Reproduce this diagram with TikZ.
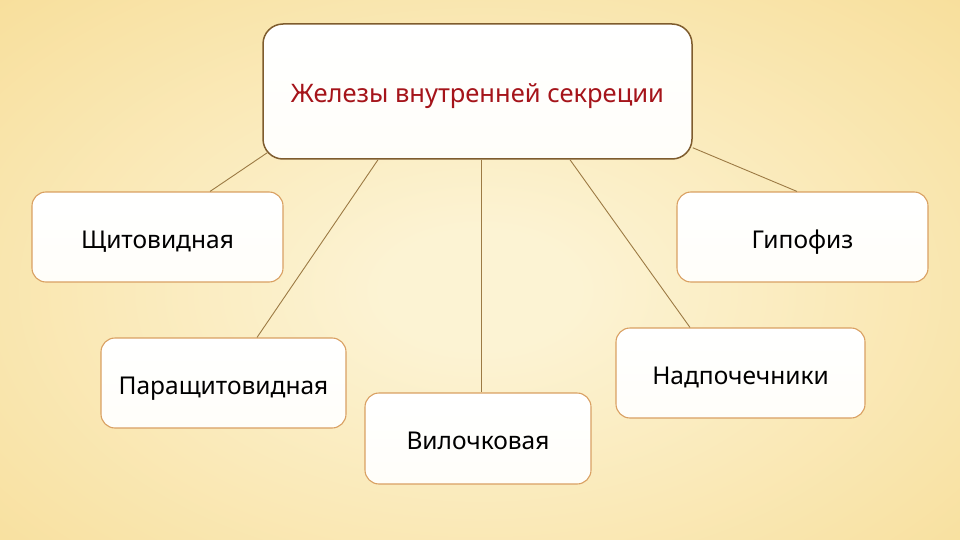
\documentclass[tikz,border=0pt]{standalone}
\usepackage{fontspec}
\setmainfont{Noto Sans}
\usetikzlibrary{calc}
\definecolor{bgin}{HTML}{FCF3D3}
\definecolor{bgmid}{HTML}{F6D683}
\definecolor{bgout}{HTML}{EFC155}
\definecolor{topborder}{HTML}{7E5C2E}
\definecolor{boxborder}{HTML}{D9A062}
\definecolor{linkc}{HTML}{9C7A44}
\definecolor{titlec}{HTML}{A5141A}
\definecolor{boxbot}{HTML}{FFFEF9}
\pgfdeclareradialshading{bgshade}{\pgfpoint{0bp}{0bp}}{color(0bp)=(bgin); color(5bp)=(bgin); color(48bp)=(bgmid); color(72bp)=(bgout)}
\tikzset{
  gland/.style={draw=boxborder, line width=1.1pt, rounded corners=14pt, top color=white, bottom color=boxbot,
    minimum height=90pt, inner sep=0pt, text height=27pt, text depth=5pt,
    font=\fontsize{24.5}{28}\selectfont, text=black},
  headbox/.style={gland, draw=topborder, line width=1.5pt, rounded corners=20pt, text=titlec,
    font=\fontsize{25.5}{30}\selectfont},
  link/.style={draw=linkc, line width=0.9pt}
}
\begin{document}
\begin{tikzpicture}[x=1pt,y=-1pt]
\useasboundingbox (0,0) rectangle (960,540);
\shade[shading=bgshade] (-10,-10) rectangle (970,590);
\node[headbox, minimum width=429pt, minimum height=135pt] (top) at (477.5,91.5) {Железы внутренней секреции};
\node[gland, minimum width=251pt] (shch) at (157.5,237) {Щитовидная};
\node[gland, minimum width=251pt] (gipo) at (802.5,237) {Гипофиз};
\node[gland, minimum width=245pt] (para) at (223.5,383) {Паращитовидная};
\node[gland, minimum width=226pt, minimum height=91pt] (vil) at (478,438.5) {Вилочковая};
\node[gland, minimum width=249pt] (nadp) at (740.5,373) {Надпочечники};
\draw[link] ($(top.south west)+(5,-7)$) -- ($(shch.north)+(52.5,0)$);
\draw[link] ($(top.south)+(-99.5,0)$) -- ($(para.north)+(33.5,0)$);
\draw[link] ($(top.south)+(3.5,0)$) -- ($(vil.north)+(3,0)$);
\draw[link] ($(top.south)+(92.5,0)$) -- ($(nadp.north)+(-50.5,0)$);
\draw[link] ($(top.south east)+(0,-12)$) -- ($(gipo.north)+(-5.5,0)$);
\end{tikzpicture}
\end{document}
